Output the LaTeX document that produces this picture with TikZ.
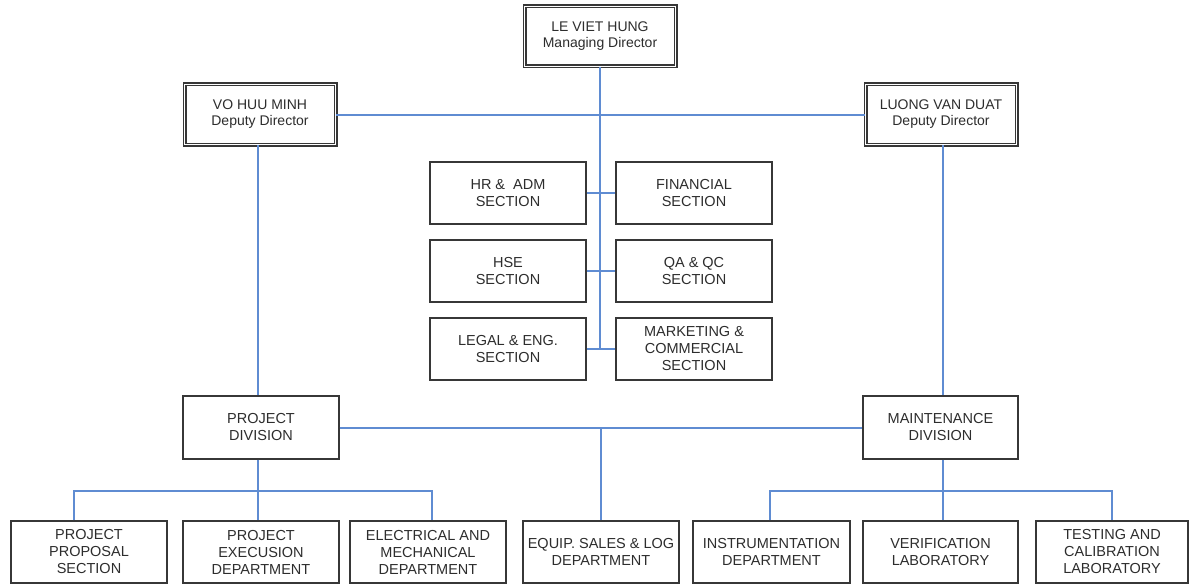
\documentclass[tikz,border=0pt]{standalone}
\usepackage{fontspec}
\setmainfont{Liberation Sans}
\definecolor{linkblue}{RGB}{95,140,210}
\definecolor{boxgray}{RGB}{55,55,55}
\definecolor{txtgray}{RGB}{45,45,45}
\begin{document}
\begin{tikzpicture}[x=1pt,y=-1pt,
  unit/.style={draw=boxgray,line width=1.1pt,fill=white,align=center,
    text=txtgray,font=\fontsize{14.5}{17}\selectfont,inner sep=0pt,
    minimum width=156pt,minimum height=62pt},
  head/.style={unit,double=white,double distance=1.8pt,line width=1.1pt,
    minimum height=60pt,minimum width=151pt,font=\fontsize{14}{16}\selectfont},
  link/.style={draw=linkblue,line width=1.4pt}]
\useasboundingbox[fill=white] (0,0) rectangle (1189,586);

% directors
\node[head] (md) at (600,36.5) {LE VIET HUNG\\Managing Director};
\node[head] (dl) at (260,114.5) {VO HUU MINH\\Deputy Director};
\node[head] (dr) at (941,114.5) {LUONG VAN DUAT\\Deputy Director};

% sections
\node[unit] (hr) at (508,193) {HR \&\ \ ADM\\SECTION};
\node[unit] (fin) at (694,193) {FINANCIAL\\SECTION};
\node[unit] (hse) at (508,271) {HSE\\SECTION};
\node[unit] (qa) at (694,271) {QA \& QC\\SECTION};
\node[unit] (leg) at (508,349) {LEGAL \& ENG.\\SECTION};
\node[unit] (mkt) at (694,349) {MARKETING \&\\COMMERCIAL\\SECTION};

% divisions
\node[unit,minimum height=63pt] (pd) at (261,427.5) {PROJECT\\DIVISION};
\node[unit,minimum height=63pt,minimum width=155pt] (mt) at (940.5,427.5) {MAINTENANCE\\DIVISION};

% departments
\node[unit] (pp) at (89,552) {PROJECT\\PROPOSAL\\SECTION};
\node[unit] (pe) at (261,552) {PROJECT\\EXECUSION\\DEPARTMENT};
\node[unit] (em) at (428,552) {ELECTRICAL AND\\MECHANICAL\\DEPARTMENT};
\node[unit] (eq) at (601,552) {EQUIP. SALES \& LOG\\DEPARTMENT};
\node[unit,minimum width=157pt] (in) at (771.5,552) {INSTRUMENTATION\\DEPARTMENT};
\node[unit,minimum width=155pt] (vl) at (940.5,552) {VERIFICATION\\LABORATORY};
\node[unit,minimum width=152pt] (tc) at (1112,552) {TESTING AND\\CALIBRATION\\LABORATORY};

% connectors
\coordinate (spine) at (600,349);
\path[link] (md.south) -- (spine);
\path[link] (dl.east |- 0,115) -- (dr.west |- 0,115);
\path[link] (hr.east) -- (fin.west);
\path[link] (hse.east) -- (qa.west);
\path[link] (leg.east) -- (mkt.west);
\path[link] (dl.south -| 258,0) -- (pd.north -| 258,0);
\path[link] (dr.south -| 943,0) -- (mt.north -| 943,0);
\path[link] (pd.east |- 0,428) -- (mt.west |- 0,428);
\path[link] (eq.north) -- (eq.north |- 0,428);
\path[link] (pd.south -| 258,0) -- (pe.north -| 258,0);
\coordinate (lbus) at (258,491);
\path[link] (pp.north -| 74,0) |- (lbus) -| (em.north -| 432,0);
\coordinate (rbus) at (943,491);
\path[link] (mt.south -| 943,0) -- (vl.north -| 943,0);
\path[link] (in.north -| 770,0) |- (rbus) -| (tc.north);
\end{tikzpicture}
\end{document}
